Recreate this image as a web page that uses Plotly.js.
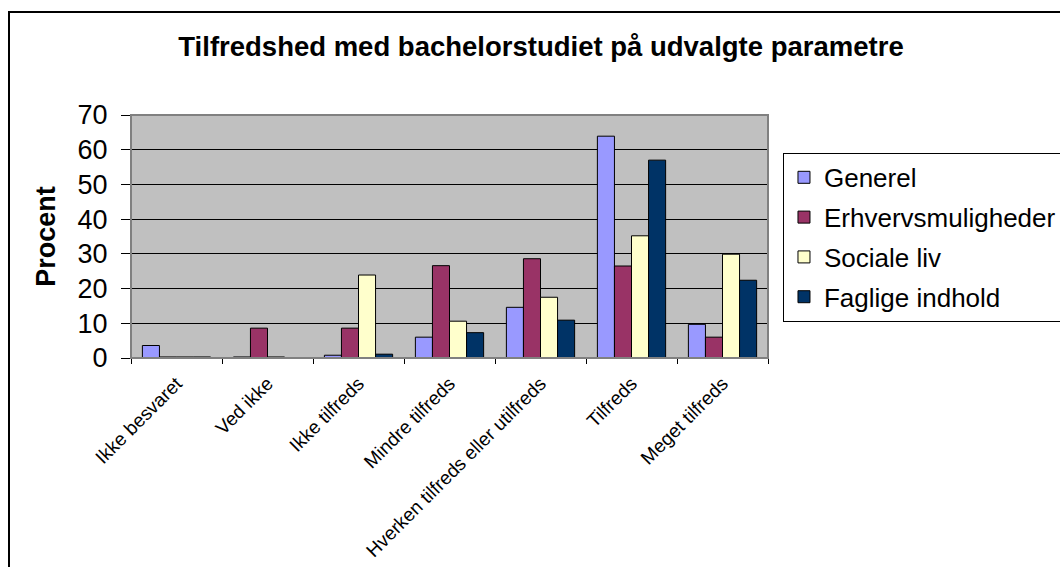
<!DOCTYPE html>
<html>
<head>
<meta charset="utf-8">
<script src="https://cdn.plot.ly/plotly-3.0.1.min.js"></script>
<style>
html,body{margin:0;padding:0;background:#fff;overflow:hidden;width:1060px;height:567px;}
#chart{width:1090px;height:567px;position:absolute;left:0;top:0;}
#frame{position:absolute;left:8px;top:11px;width:1100px;height:600px;border:2px solid #000;pointer-events:none;}
</style>
</head>
<body>
<div id="chart"></div>
<div id="frame"></div>
<script>
const categories = ["Ikke besvaret","Ved ikke","Ikke tilfreds","Mindre tilfreds","Hverken tilfreds eller utilfreds","Tilfreds","Meget tilfreds"];
const generel = [3.6, 0.3, 0.8, 6.0, 14.6, 63.9, 9.7];
const erhvervsmuligheder = [0.3, 8.6, 8.6, 26.6, 28.6, 26.5, 6.0];
const socialeLiv = [0.3, 0.3, 23.9, 10.6, 17.5, 35.2, 29.9];
const fagligeIndhold = [0.3, 0, 1.1, 7.3, 10.9, 57.0, 22.4];
const seriesNames = ["Generel","Erhvervsmuligheder","Sociale liv","Faglige indhold"];
const seriesColors = ["#9999FF","#993366","#FFFFCC","#003366"];
const seriesValues = [generel, erhvervsmuligheder, socialeLiv, fagligeIndhold];

const FONT = "Liberation Sans, Arial, sans-serif";

const data = seriesValues.map((vals, i) => ({
  type: "bar",
  x: categories,
  y: vals,
  name: seriesNames[i],
  legendgroup: seriesNames[i],
  marker: {color: seriesColors[i], line: {color: "#000", width: 1}},
  hoverinfo: "x+y+name"
}));

const layout = {
  width: 1090,
  height: 567,
  paper_bgcolor: "#fff",
  plot_bgcolor: "#C0C0C0",
  font: {family: FONT, color: "#000"},
  margin: {l: 131, r: 322, t: 115, b: 209},
  barmode: "group",
  bargap: 0.25,
  bargroupgap: 0,
  title: {
    text: "<b>Tilfredshed med bachelorstudiet på udvalgte parametre</b>",
    font: {family: FONT, size: 27.5, color: "#000"},
    x: 0.5, xref: "container", xanchor: "center",
    y: 0.919, yref: "container", yanchor: "middle"
  },
  xaxis: {
    type: "category",
    tickangle: -45,
    tickfont: {family: FONT, size: 19},
    ticks: "outside",
    tickson: "boundaries",
    ticklen: 5,
    tickcolor: "#000",
    ticklabelstandoff: 6,
    showline: true,
    linecolor: "#000",
    linewidth: 1,
    showgrid: false,
    automargin: false
  },
  yaxis: {
    range: [0, 70],
    tickvals: [0,10,20,30,40,50,60,70],
    tickfont: {family: FONT, size: 27},
    ticks: "outside",
    ticklen: 9,
    tickcolor: "#000",
    ticklabelstandoff: 8,
    showline: true,
    linecolor: "#000",
    linewidth: 1,
    showgrid: true,
    gridcolor: "#000",
    gridwidth: 1,
    zeroline: false,
    automargin: false,
    title: {text: "<b>Procent</b>", font: {family: FONT, size: 27}, standoff: 14}
  },
  legend: {
    x: 1.0235, xanchor: "left",
    y: 0.844, yanchor: "top",
    bgcolor: "#fff",
    bordercolor: "#000",
    borderwidth: 1,
    font: {family: FONT, size: 26, color: "#000"},
    traceorder: "grouped",
    tracegroupgap: 3
  },
  shapes: [{
    type: "rect", xref: "paper", yref: "paper",
    x0: 0, x1: 1, y0: 0, y1: 1,
    line: {color: "#808080", width: 2},
    layer: "above"
  }],
  showlegend: true
};

layout.title.x = 541 / layout.width;

Plotly.newPlot("chart", data, layout, {displayModeBar: false, staticPlot: true});
</script>
</body>
</html>
